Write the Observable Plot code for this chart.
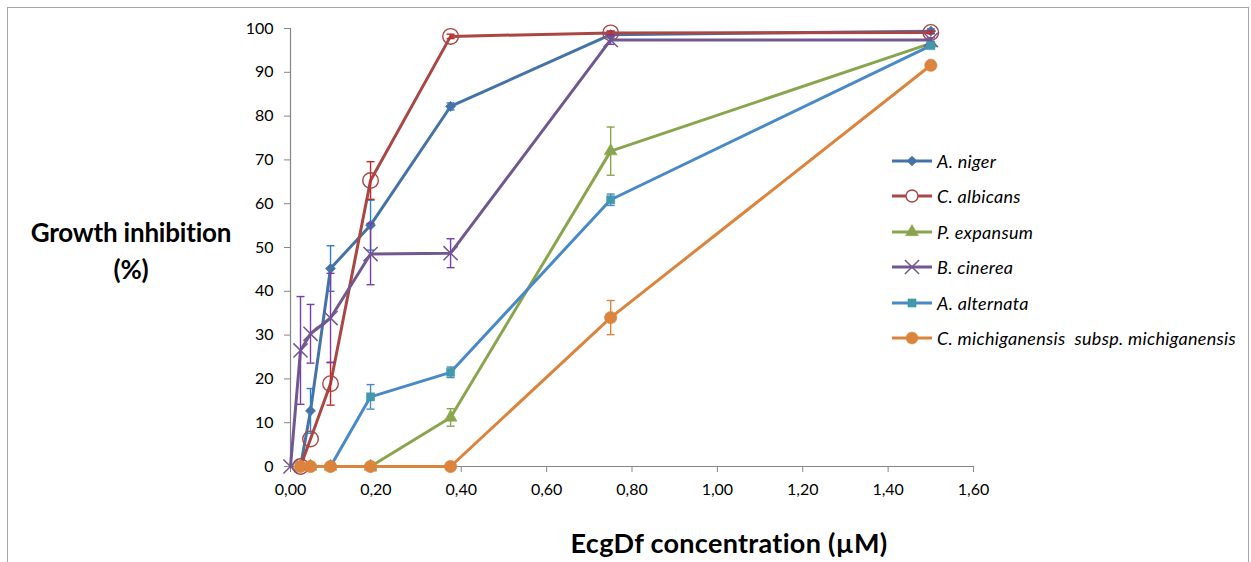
<!DOCTYPE html>
<html>
<head>
<meta charset="utf-8">
<script src="https://cdn.jsdelivr.net/npm/d3@7"></script>
<script src="https://cdn.jsdelivr.net/npm/@observablehq/plot@0.6"></script>
<style>
  html, body { margin: 0; padding: 0; background: #fff; }
  #wrap { position: relative; width: 1251px; height: 562px; overflow: hidden; font-family: Lato, "Open Sans", sans-serif; }
  #frame { position: absolute; left: 7px; top: 7px; width: 1242px; height: 600px; border: 1px solid #a6a6a6; box-sizing: border-box; }
  #chart { position: absolute; left: 0; top: 0; }
  .ytitle { position: absolute; left: 0; width: 262px; top: 214px; text-align: center; font-weight: bold; font-size: 26px; line-height: 37px; color: #000; letter-spacing: -0.2px; }
  .xtitle { position: absolute; left: 429px; width: 600px; top: 527px; text-align: center; font-weight: bold; font-size: 27px; line-height: 32px; color: #000; letter-spacing: 0.3px; }
  #legend { position: absolute; left: 890px; top: 143px; }
  .lrow { height: 35.5px; display: flex; align-items: center; }
  .lrow span { font-style: italic; font-size: 18px; letter-spacing: 0.3px; color: #000; margin-left: 3px; white-space: pre; }
</style>
</head>
<body>
<div id="wrap">
  <div id="frame"></div>
  <div id="chart"></div>
  <div class="ytitle">Growth inhibition<br>(%)</div>
  <div class="xtitle">EcgDf concentration (µM)</div>
  <div id="legend"></div>
</div>
<script>
// ---- data ----
const concentrations = [0, 0.0234375, 0.046875, 0.09375, 0.1875, 0.375, 0.75, 1.5];
const seriesNames = ["A. niger", "C. albicans", "P. expansum", "B. cinerea", "A. alternata", "C. michiganensis  subsp. michiganensis"];

const aNiger          = [null, 0, 12.7, 45.2, 55.1, 82.2, 98.6, 99.4];
const aNigerErr       = [null, 0, 5.1, 5.2, 5.7, 0.8, 0.8, 0.5];
const cAlbicans       = [null, 0, 6.3, 18.9, 65.3, 98.2, 99.0, 99.1];
const cAlbicansErr    = [null, 0, 0, 4.9, 4.3, 0.5, 0.4, 0.3];
const pExpansum       = [null, 0, 0, 0, 0, 11.2, 72.0, 96.6];
const pExpansumErr    = [null, 0, 0, 0, 0, 2.0, 5.5, 0.5];
const bCinerea        = [0, 26.5, 30.3, 33.9, 48.5, 48.7, 97.4, 97.4];
const bCinereaErr     = [0, 12.3, 6.7, 10.2, 7.0, 3.3, 1.0, 0.5];
const aAlternata      = [null, 0, 0, 0, 15.9, 21.5, 60.9, 96.1];
const aAlternataErr   = [null, 0, 0, 0, 2.8, 1.2, 1.3, 0.5];
const cMichiganensis    = [null, 0, 0, 0, 0, 0, 34.0, 91.6];
const cMichiganensisErr = [null, 0, 0, 0, 0, 0, 3.9, 0];

const yTicks = [0, 10, 20, 30, 40, 50, 60, 70, 80, 90, 100];
const xTicks = [0, 0.2, 0.4, 0.6, 0.8, 1.0, 1.2, 1.4, 1.6];

// ---- styles ----
const seriesValues = [aNiger, cAlbicans, pExpansum, bCinerea, aAlternata, cMichiganensis];
const seriesErrors = [aNigerErr, cAlbicansErr, pExpansumErr, bCinereaErr, aAlternataErr, cMichiganensisErr];
const lineColors  = ["#4572A7", "#AA4643", "#89A54E", "#71588F", "#4A89C8", "#DB843D"];
const errColors   = ["#2E7FCF", "#C0282A", "#89A54E", "#7B3DA8", "#4A89C8", "#DB843D"];
const markerStyle = [
  {symbol: "diamond2", r: 4.6, fill: "#4572A7", stroke: "#4572A7", strokeWidth: 0.5},
  {symbol: "circle",   r: 7.8, fill: "none",    stroke: "#AA4643", strokeWidth: 1.4},
  {symbol: "triangle", r: 4.8, fill: "#89A54E", stroke: "#89A54E", strokeWidth: 0.5},
  {symbol: "times",    r: 6.5, fill: "none",    stroke: "#71588F", strokeWidth: 1.5},
  {symbol: "square",   r: 4.6, fill: "#4198AF", stroke: "#4198AF", strokeWidth: 0.5},
  {symbol: "circle",   r: 6.2, fill: "#DB843D", stroke: "#DB843D", strokeWidth: 0.5}
];

const capSymbol = { draw(ctx) { ctx.moveTo(-4, 0); ctx.lineTo(4, 0); } };

const marks = [
  Plot.axisY({ticks: yTicks, tickSize: 6, tickPadding: 11, stroke: "#868686", tickFormat: d => String(d), label: null}),
  Plot.axisX({ticks: xTicks, tickSize: 6, tickPadding: 11, stroke: "#868686", tickFormat: d => d.toFixed(2).replace(".", ","), label: null}),
  Plot.ruleX([0], {stroke: "#868686", strokeWidth: 1.2}),
  Plot.ruleY([0], {stroke: "#868686", strokeWidth: 1.2})
];

seriesNames.forEach((name, i) => {
  const rows = concentrations.map((x, j) => ({series: name, x, y: seriesValues[i][j], err: seriesErrors[i][j]}))
    .filter(d => d.y != null);
  const errRows = rows.filter(d => d.err > 0);
  marks.push(
    Plot.line(rows, {x: "x", y: "y", stroke: lineColors[i], strokeWidth: 3, strokeLinejoin: "round"}),
    Plot.ruleX(errRows, {x: "x", y1: d => d.y - d.err, y2: d => d.y + d.err, stroke: errColors[i], strokeWidth: 1.4}),
    Plot.dot(errRows, {x: "x", y: d => d.y + d.err, symbol: capSymbol, stroke: errColors[i], strokeWidth: 1.4, fill: "none"}),
    Plot.dot(errRows, {x: "x", y: d => d.y - d.err, symbol: capSymbol, stroke: errColors[i], strokeWidth: 1.4, fill: "none"}),
    Plot.dot(rows, {x: "x", y: "y", ...markerStyle[i]})
  );
});

const chart = Plot.plot({
  width: 1251,
  height: 562,
  marginLeft: 290,
  marginRight: 278,
  marginTop: 28,
  marginBottom: 96,
  x: {domain: [0, 1.6]},
  y: {domain: [0, 100]},
  style: {fontFamily: "Lato, 'Open Sans', sans-serif", fontSize: "16px", color: "#000", background: "transparent", overflow: "visible"},
  marks
});
document.getElementById("chart").appendChild(chart);

// ---- legend ----
const legend = d3.select("#legend");
seriesNames.forEach((name, i) => {
  const row = legend.append("div").attr("class", "lrow");
  const svg = row.append("svg").attr("width", 44).attr("height", 20);
  svg.append("line").attr("x1", 2).attr("x2", 42).attr("y1", 10).attr("y2", 10)
    .attr("stroke", lineColors[i]).attr("stroke-width", 3);
  const m = markerStyle[i];
  const symMap = {diamond2: d3.symbolDiamond2, circle: d3.symbolCircle, triangle: d3.symbolTriangle, times: d3.symbolTimes, square: d3.symbolSquare};
  const r = m.symbol === "circle" ? Math.min(m.r, 6) : m.r;
  svg.append("path").attr("transform", "translate(22,10)")
    .attr("d", d3.symbol(symMap[m.symbol], Math.PI * r * r)())
    .attr("fill", m.fill === "none" ? "#fff" : m.fill)
    .attr("stroke", m.stroke).attr("stroke-width", m.strokeWidth);
  row.append("span").text(name);
});
</script>
</body>
</html>
